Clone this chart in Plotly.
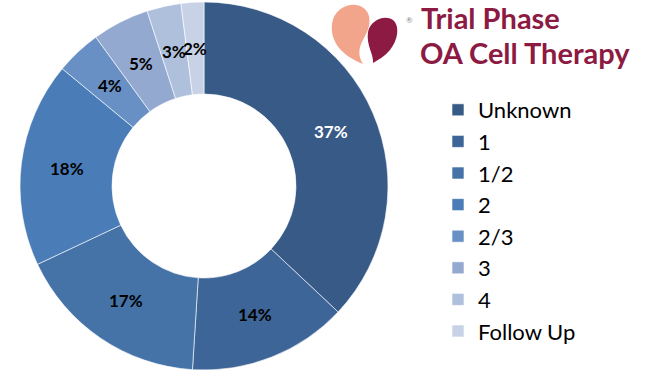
import math
import plotly.graph_objects as go

labels = ["Unknown", "1", "1/2", "2", "2/3", "3", "4", "Follow Up"]
values = [37, 14, 17, 18, 4, 5, 3, 2]
colors = ["#375A86", "#3D6597", "#4573A8", "#4A7DB8", "#6990C5", "#93A9CF", "#AFC0DD", "#C8D2E6"]
text_colors = ["white", "black", "black", "black", "black", "black", "black", "black"]

FONT = "Lato"
MAROON = "#8C1A42"

# pie geometry in pixels (figure coords, y downwards)
CX, CY, R_OUT, HOLE = 204, 186, 184, 0.5
W, H = 650, 375

fig = go.Figure()
fig.add_trace(go.Pie(
    labels=labels, values=values, sort=False, direction="clockwise", rotation=0,
    hole=HOLE,
    marker=dict(colors=colors, line=dict(color="white", width=0.6)),
    textinfo="none",
    domain=dict(x=[(CX - R_OUT) / W, (CX + R_OUT) / W],
                y=[1 - (CY + R_OUT) / H, 1 - (CY - R_OUT) / H]),
    hoverinfo="label+percent",
))

# percentage labels at the mid-radius of each slice
total = sum(values)
r_mid = R_OUT * (1 + HOLE) / 2
cum = 0
for v, tc in zip(values, text_colors):
    ang = math.radians((cum + v / 2) / total * 360)
    cum += v
    fig.add_annotation(x=CX + r_mid * math.sin(ang), y=CY - r_mid * math.cos(ang),
                       xref="x", yref="y", text=f"{round(v / total * 100)}%",
                       showarrow=False, xanchor="center", yanchor="middle",
                       font=dict(family=FONT, size=17, color=tc, weight="bold"))

# logo shapes (pixel coordinate axis)
peach = "M 363 64 C 340 55, 330 40, 332 24 C 334 8, 350 2, 360 6 C 372 11, 372 25, 364 38 C 358 48, 358 56, 363 64 Z"
maroon = "M 373 63 C 374 55, 366 45, 368 32 C 370 20, 385 14, 393 20 C 400 26, 398 40, 390 50 C 385 56, 378 60, 373 63 Z"
fig.add_shape(type="path", path=peach, xref="x", yref="y", fillcolor="#F3A58C", line=dict(width=0), layer="above")
fig.add_shape(type="path", path=maroon, xref="x", yref="y", fillcolor=MAROON, line=dict(width=0), layer="above")

fig.add_annotation(x=404, y=20, xref="x", yref="y", text="®", showarrow=False,
                   font=dict(family=FONT, size=8, color="#888888"), xanchor="left", yanchor="middle")
fig.add_annotation(x=419, y=17, xref="x", yref="y", text="Trial Phase", showarrow=False,
                   font=dict(family=FONT, size=29, color=MAROON, weight="bold"), xanchor="left", yanchor="middle")
fig.add_annotation(x=418, y=52, xref="x", yref="y", text="OA Cell Therapy", showarrow=False,
                   font=dict(family=FONT, size=29, color=MAROON, weight="bold"), xanchor="left", yanchor="middle")

fig.update_layout(
    width=W, height=H,
    margin=dict(l=0, r=0, t=0, b=0),
    paper_bgcolor="white", plot_bgcolor="rgba(0,0,0,0)",
    xaxis=dict(range=[0, W], visible=False, fixedrange=True),
    yaxis=dict(range=[H, 0], visible=False, fixedrange=True),
    showlegend=True,
    legend=dict(x=438 / W, y=1 - 89 / H, xanchor="left", yanchor="top",
                font=dict(family=FONT, size=22, color="black"),
                bgcolor="rgba(0,0,0,0)"),
)

fig.write_html("out.html", config={"displayModeBar": False},
               post_script="document.body.style.margin='0';")
